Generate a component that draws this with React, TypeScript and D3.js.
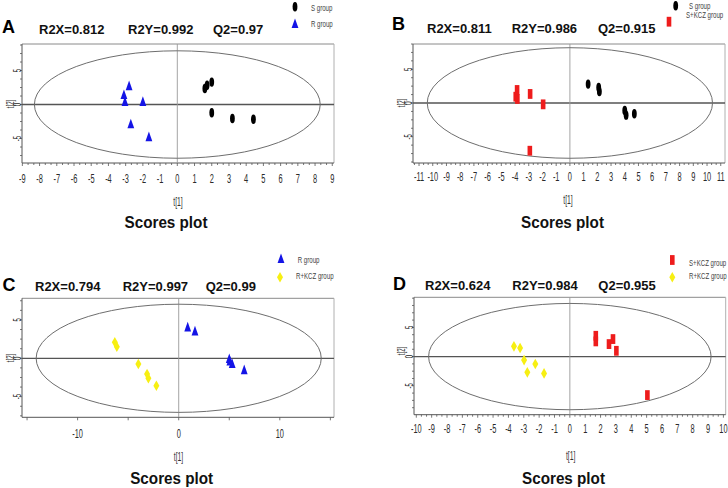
import React from "react";
import * as d3 from "d3";

// ---------- data ----------
const panelLetters = ["A", "B", "C", "D"];
const statsR2X = ["R2X=0.812", "R2X=0.811", "R2X=0.794", "R2X=0.624"];
const statsR2Y = ["R2Y=0.992", "R2Y=0.986", "R2Y=0.997", "R2Y=0.984"];
const statsQ2 = ["Q2=0.97", "Q2=0.915", "Q2=0.99", "Q2=0.955"];

const sGroupA: [number, number][] = [[1.6, 2.35], [1.73, 2.84], [2.0, 3.3], [2.0, -1.2], [3.2, -2.06], [4.42, -2.16]];
const rGroupA: [number, number][] = [[-2.8, 2.7], [-3.1, 1.4], [-3.04, 0.4], [-2.0, 0.4], [-2.7, -2.9], [-1.65, -4.8]];

const sGroupB: [number, number][] = [[1.33, 2.8], [2.1, 2.3], [2.15, 1.7], [4.0, -1.1], [4.1, -1.8], [4.7, -1.6]];
const skGroupB: [number, number][] = [[-3.85, 1.93], [-3.95, 0.93], [-3.83, 0.6], [-2.9, 1.34], [-1.95, -0.2], [-2.92, -7.08]];

const rGroupC: [number, number][] = [[0.89, 4.04], [1.61, 3.52], [5.0, -0.09], [5.06, -0.39], [5.29, -0.74], [6.48, -1.53]];
const rkGroupC: [number, number][] = [[-6.32, 2.09], [-6.12, 1.51], [-3.99, -0.74], [-3.13, -2.05], [-3.0, -2.61], [-2.21, -3.57]];

const skGroupD: [number, number][] = [[1.69, 3.56], [1.69, 2.6], [2.55, 2.14], [2.81, 3.0], [3.03, 0.99], [5.05, -6.59]];
const rkGroupD: [number, number][] = [[-3.64, 1.75], [-3.24, 1.46], [-2.98, -0.6], [-2.25, -1.28], [-2.77, -2.7], [-1.68, -2.88]];

const xDomains: [number, number][] = [[-9.02, 9.1], [-11.44, 11.31], [-15.5, 15.36], [-10.15, 10.15]];
const yDomains: [number, number][] = [[-8.6, 8.9], [-8.9, 8.75], [-7.69, 7.82], [-9.95, 10.15]];
const ellipseRadii: [number, number][] = [[8.3, 7.9], [10.4, 8.2], [14.1, 7.05], [9.2, 9.1]];
const xTickLabelsA = d3.range(-9, 10);
const xTickLabelsB = d3.range(-11, 12);
const xTickLabelsC = [-10, 0, 10];
const xTickLabelsD = d3.range(-10, 11);
const yTickLabels = [-5, 0, 5];

const legendA = ["S group", "R group"];
const legendB = ["S group", "S+KCZ group"];
const legendC = ["R group", "R+KCZ group"];
const legendD = ["S+KCZ group", "R+KCZ group"];

// ---------- styles ----------
const COLORS: Record<string, string> = { oval: "#000000", tri: "#1414e6", rect: "#ee1c1c", diamond: "#f7ef12" };

type Shape = "oval" | "tri" | "rect" | "diamond";

function Marker({ shape, x, y }: { shape: Shape; x: number; y: number }) {
  const c = COLORS[shape];
  if (shape === "oval") return <ellipse cx={x} cy={y} rx={2.4} ry={4.7} fill={c} />;
  if (shape === "tri") return <path d={`M${x},${y - 5.6}L${x + 3.4},${y + 4.1}L${x - 3.4},${y + 4.1}Z`} fill={c} />;
  if (shape === "rect") return <rect x={x - 2.3} y={y - 4.9} width={4.6} height={9.8} fill={c} />;
  return <path d={`M${x},${y - 5.3}L${x + 3},${y}L${x},${y + 5.3}L${x - 3},${y}Z`} fill={c} />;
}

const condensed = "Liberation Sans, Arial, sans-serif";
const bold = "Liberation Sans, Arial, sans-serif";

interface PanelCfg {
  letter: string;
  r2x: string; r2y: string; q2: string;
  box: [number, number, number, number]; // left, right, top, bottom
  xDomain: [number, number];
  yDomain: [number, number];
  ell: [number, number];
  xLabels: number[];
  xMajor: number;
  xMinorPerMajor: number;
  xLabelDy: number;
  series: { pts: [number, number][]; shape: Shape }[];
  letterPos: [number, number];
  statsX: [number, number, number];
  statsY: number;
  legend: { label: string; shape: Shape; mx: number; my: number; tx: number; ty: number }[];
  t1: [number, number];
  t2: [number, number];
  scores: [number, number];
}

function Panel({ cfg }: { cfg: PanelCfg }) {
  const [L, R, T, B] = cfg.box;
  const x = d3.scaleLinear().domain(cfg.xDomain).range([L, R]);
  const y = d3.scaleLinear().domain(cfg.yDomain).range([B, T]);
  const minorStep = cfg.xMajor / cfg.xMinorPerMajor;
  const xMinor = d3.range(Math.ceil(cfg.xDomain[0] / minorStep), Math.floor(cfg.xDomain[1] / minorStep) + 1).map((k) => k * minorStep);
  const xMajorTicks = xMinor.filter((v) => Math.abs(v / cfg.xMajor - Math.round(v / cfg.xMajor)) < 1e-6);
  const yMinor = d3.range(Math.ceil(cfg.yDomain[0] / 1.25), Math.floor(cfg.yDomain[1] / 1.25) + 1).map((k) => k * 1.25);
  return (
    <g>
      {/* frame */}
      <line x1={L} x2={R} y1={T} y2={T} stroke="#8a8a8a" strokeWidth={1} />
      <line x1={R} x2={R} y1={T} y2={B} stroke="#b0b0b0" strokeWidth={1} />
      <line x1={L} x2={L} y1={T} y2={B} stroke="#555" strokeWidth={1} />
      <line x1={L} x2={R} y1={B} y2={B} stroke="#555" strokeWidth={1} />
      {/* zero lines */}
      <line x1={L} x2={R} y1={y(0)} y2={y(0)} stroke="#555" strokeWidth={1.3} />
      <line x1={x(0)} x2={x(0)} y1={T} y2={B} stroke="#9a9a9a" strokeWidth={0.9} />
      {/* ellipse */}
      <ellipse cx={x(0)} cy={y(0)} rx={x(cfg.ell[0]) - x(0)} ry={y(0) - y(cfg.ell[1])} fill="none" stroke="#6e6e6e" strokeWidth={1} />
      {/* x ticks */}
      {xMinor.map((v, i) => (
        <line key={"xm" + i} x1={x(v)} x2={x(v)} y1={B} y2={B + (xMajorTicks.includes(v) ? 3 : 2)} stroke="#555" strokeWidth={0.8} />
      ))}
      {cfg.xLabels.map((v) => (
        <text key={"xl" + v} transform={`translate(${x(v)},${B + cfg.xLabelDy}) scale(0.55,1)`} textAnchor="middle" fontFamily={condensed} fontSize={13.5} fill="#2a2a2a">
          {v}
        </text>
      ))}
      {/* y ticks */}
      {yMinor.map((v, i) => (
        <line key={"ym" + i} x1={L - 2} x2={L} y1={y(v)} y2={y(v)} stroke="#555" strokeWidth={0.8} />
      ))}
      {yTickLabels.map((v) => (
        <text key={"yl" + v} transform={`translate(${L - 1},${y(v)}) rotate(-90) scale(0.55,1)`} textAnchor="middle" fontFamily={condensed} fontSize={11} fill="#2a2a2a">
          {v}
        </text>
      ))}
      {/* axis titles */}
      <text transform={`translate(${cfg.t1[0]},${cfg.t1[1]}) scale(0.55,1)`} textAnchor="middle" fontFamily={condensed} fontSize={12.5} fill="#333">t[1]</text>
      <text transform={`translate(${cfg.t2[0]},${cfg.t2[1]}) rotate(-90) scale(0.55,1)`} textAnchor="middle" fontFamily={condensed} fontSize={11} fill="#333">t[2]</text>
      {/* points */}
      {cfg.series.map((s, si) =>
        s.pts.map((p, pi) => <Marker key={`p${si}-${pi}`} shape={s.shape} x={x(p[0])} y={y(p[1])} />)
      )}
      {/* header */}
      <text x={cfg.letterPos[0]} y={cfg.letterPos[1]} fontFamily={bold} fontWeight="bold" fontSize={18} fill="#000">{cfg.letter}</text>
      <text x={cfg.statsX[0]} y={cfg.statsY} fontFamily={bold} fontWeight="bold" fontSize={13} fill="#111">{cfg.r2x}</text>
      <text x={cfg.statsX[1]} y={cfg.statsY} fontFamily={bold} fontWeight="bold" fontSize={13} fill="#111">{cfg.r2y}</text>
      <text x={cfg.statsX[2]} y={cfg.statsY} fontFamily={bold} fontWeight="bold" fontSize={13} fill="#111">{cfg.q2}</text>
      {/* legend */}
      {cfg.legend.map((l, i) => (
        <g key={"lg" + i}>
          <Marker shape={l.shape} x={l.mx} y={l.my} />
          <text transform={`translate(${l.tx},${l.ty}) scale(0.68,1)`} fontFamily={condensed} fontSize={9} fill="#444">{l.label}</text>
        </g>
      ))}
      <text x={cfg.scores[0]} y={cfg.scores[1]} textAnchor="middle" fontFamily={bold} fontWeight="bold" fontSize={16} fill="#111" textLength={83} lengthAdjust="spacingAndGlyphs">Scores plot</text>
    </g>
  );
}

const panels: PanelCfg[] = [
  {
    letter: panelLetters[0], r2x: statsR2X[0], r2y: statsR2Y[0], q2: statsQ2[0],
    box: [22, 334, 44, 163], xDomain: xDomains[0], yDomain: yDomains[0], ell: ellipseRadii[0],
    xLabels: xTickLabelsA, xMajor: 1, xMinorPerMajor: 3, xLabelDy: 20,
    series: [{ pts: sGroupA, shape: "oval" }, { pts: rGroupA, shape: "tri" }],
    letterPos: [2, 33], statsX: [39, 128, 213], statsY: 34,
    legend: [
      { label: legendA[0], shape: "oval", mx: 295, my: 6.7, tx: 311, ty: 11 },
      { label: legendA[1], shape: "tri", mx: 295, my: 24, tx: 311, ty: 26.5 },
    ],
    t1: [178, 206], t2: [14, 104], scores: [166, 228],
  },
  {
    letter: panelLetters[1], r2x: statsR2X[1], r2y: statsR2Y[1], q2: statsQ2[1],
    box: [413, 725, 44, 163], xDomain: xDomains[1], yDomain: yDomains[1], ell: ellipseRadii[1],
    xLabels: xTickLabelsB, xMajor: 1, xMinorPerMajor: 3, xLabelDy: 18,
    series: [{ pts: sGroupB, shape: "oval" }, { pts: skGroupB, shape: "rect" }],
    letterPos: [392, 30], statsX: [427, 511.7, 598], statsY: 33.3,
    legend: [
      { label: legendB[0], shape: "oval", mx: 675.7, my: 5.7, tx: 689, ty: 8.5 },
      { label: legendB[1], shape: "rect", mx: 669, my: 21.7, tx: 686, ty: 17.5 },
    ],
    t1: [568, 204], t2: [405, 103], scores: [562.5, 228.3],
  },
  {
    letter: panelLetters[2], r2x: statsR2X[2], r2y: statsR2Y[2], q2: statsQ2[2],
    box: [22, 334, 298.3, 417.3], xDomain: xDomains[2], yDomain: yDomains[2], ell: ellipseRadii[2],
    xLabels: xTickLabelsC, xMajor: 5, xMinorPerMajor: 1, xLabelDy: 21,
    series: [{ pts: rGroupC, shape: "tri" }, { pts: rkGroupC, shape: "diamond" }],
    letterPos: [2.5, 290.7], statsX: [35, 122.7, 205.7], statsY: 290.7,
    legend: [
      { label: legendC[0], shape: "tri", mx: 281, my: 259, tx: 297.7, ty: 263 },
      { label: legendC[1], shape: "diamond", mx: 280, my: 277.3, tx: 296, ty: 279 },
    ],
    t1: [178.5, 461], t2: [14, 358], scores: [171.7, 483.5],
  },
  {
    letter: panelLetters[3], r2x: statsR2X[3], r2y: statsR2Y[3], q2: statsQ2[3],
    box: [414, 725.7, 297.3, 414.7], xDomain: xDomains[3], yDomain: yDomains[3], ell: ellipseRadii[3],
    xLabels: xTickLabelsD, xMajor: 1, xMinorPerMajor: 3, xLabelDy: 18,
    series: [{ pts: skGroupD, shape: "rect" }, { pts: rkGroupD, shape: "diamond" }],
    letterPos: [393, 289.7], statsX: [425, 512.3, 598.3], statsY: 289.7,
    legend: [
      { label: legendD[0], shape: "rect", mx: 672.3, my: 260, tx: 689, ty: 266 },
      { label: legendD[1], shape: "diamond", mx: 672.3, my: 277.3, tx: 689, ty: 279 },
    ],
    t1: [570.7, 460], t2: [405, 351], scores: [563.5, 484],
  },
];

export default function App() {
  return (
    <svg width={728} height={488} style={{ position: "absolute", left: 0, top: 0, background: "#fff" }}>
      <rect x={0} y={0} width={728} height={488} fill="#fff" />
      {panels.map((p) => (
        <Panel key={p.letter} cfg={p} />
      ))}
    </svg>
  );
}
